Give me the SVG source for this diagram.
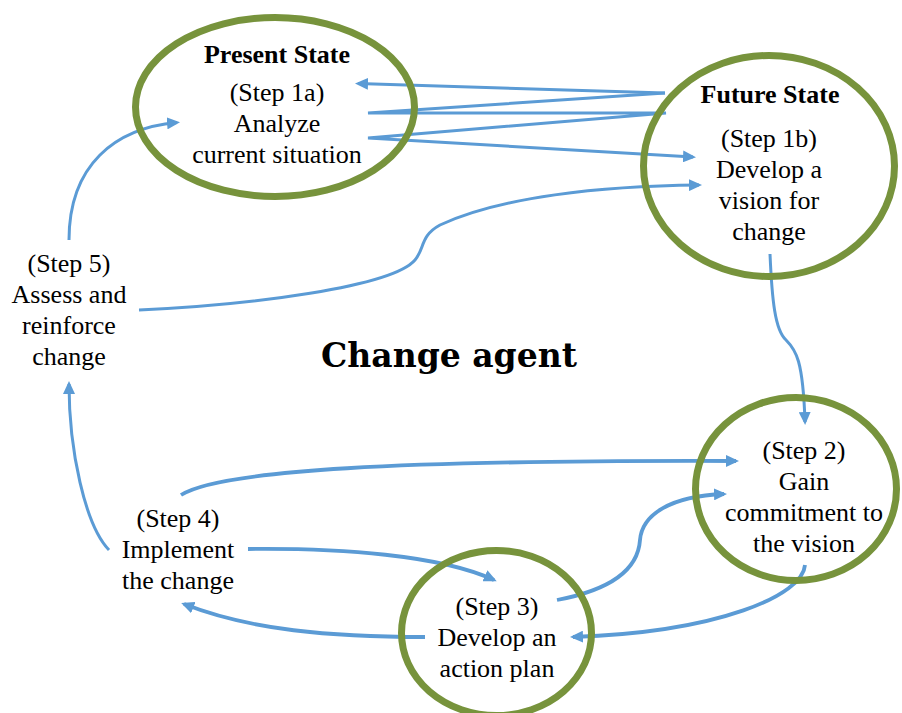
<svg xmlns="http://www.w3.org/2000/svg" width="902" height="713" viewBox="0 0 902 713">
  <style>
    .node { fill: none; stroke: #77933C; stroke-width: 7; }
    .t { font-family: "Liberation Serif", "Times New Roman", serif; font-size: 26px; fill: #000; text-anchor: middle; }
    .tb { font-family: "Liberation Serif", "Times New Roman", serif; font-size: 26px; font-weight: bold; fill: #000; text-anchor: middle; }
    .title { font-family: "DejaVu Serif", "Liberation Serif", serif; font-size: 33px; font-weight: bold; fill: #000; text-anchor: middle; }
    .c { fill: none; stroke: #5B9BD5; stroke-width: 3; marker-end: url(#arrow); }
    .c2 { fill: none; stroke: #5B9BD5; stroke-width: 3.8; marker-end: url(#arrow); }
  </style>
  <defs>
    <marker id="arrow" markerUnits="userSpaceOnUse" markerWidth="13" markerHeight="12" viewBox="0 0 13 12" refX="10" refY="6" orient="auto">
      <path d="M0,0 L13,6 L0,12 z" fill="#5B9BD5"/>
    </marker>
  </defs>
  <rect width="902" height="713" fill="#ffffff"/>

  <g id="connectors">
    <path class="c" d="M665,93 L358,83.5"/>
    <path class="c" d="M665,93 L368,113 L666,113 L368,138 L693,157"/>
    <path class="c" d="M69,240 C69,165 115,128 177,122.5"/>
    <path class="c" d="M139,310 C250,305 392,287 415,260 C425,248 420,236 440,225 C500,197 600,186 699,185"/>
    <path class="c" d="M770,254 C772,300 775,330 786,340 C796,350 803,360 805,422"/>
    <path class="c2" d="M181,495 C220,470 400,460 736,461"/>
    <path class="c2" d="M557,600 C610,590 638,570 640,540 C642,515 670,496 724,494"/>
    <path class="c2" d="M805,565 C803,595 720,632 573,637"/>
    <path class="c2" d="M425,637 C330,637 250,630 184,604"/>
    <path class="c2" d="M248,549 C340,548 440,555 494,580"/>
    <path class="c" d="M109,550 C85,525 69,450 69,384"/>
  </g>

  <g id="present-state">
    <ellipse class="node" cx="275" cy="107" rx="139.5" ry="89.5"/>
    <text class="tb" x="277" y="63">Present State</text>
    <text class="t" x="277" y="101">(Step 1a)</text>
    <text class="t" x="277" y="132">Analyze</text>
    <text class="t" x="277" y="163">current situation</text>
  </g>

  <g id="future-state">
    <ellipse class="node" cx="769" cy="166" rx="125.5" ry="110.5"/>
    <text class="tb" x="770" y="103">Future State</text>
    <text class="t" x="769" y="147">(Step 1b)</text>
    <text class="t" x="769" y="178">Develop a</text>
    <text class="t" x="769" y="209">vision for</text>
    <text class="t" x="769" y="240">change</text>
  </g>

  <g id="step2">
    <ellipse class="node" cx="796" cy="489" rx="100.5" ry="91.5"/>
    <text class="t" x="804" y="459">(Step 2)</text>
    <text class="t" x="804" y="490">Gain</text>
    <text class="t" x="804" y="521">commitment to</text>
    <text class="t" x="804" y="552">the vision</text>
  </g>

  <g id="step3">
    <ellipse class="node" cx="496.5" cy="633" rx="95" ry="82.5"/>
    <text class="t" x="497" y="615">(Step 3)</text>
    <text class="t" x="497" y="646">Develop an</text>
    <text class="t" x="497" y="677">action plan</text>
  </g>

  <g id="step4">
    <text class="t" x="178" y="527">(Step 4)</text>
    <text class="t" x="178" y="558">Implement</text>
    <text class="t" x="178" y="589">the change</text>
  </g>

  <g id="step5">
    <text class="t" x="69" y="272">(Step 5)</text>
    <text class="t" x="69" y="303">Assess and</text>
    <text class="t" x="69" y="334">reinforce</text>
    <text class="t" x="69" y="365">change</text>
  </g>

  <g id="change-agent">
    <text class="title" x="449" y="367">Change agent</text>
  </g>
</svg>
